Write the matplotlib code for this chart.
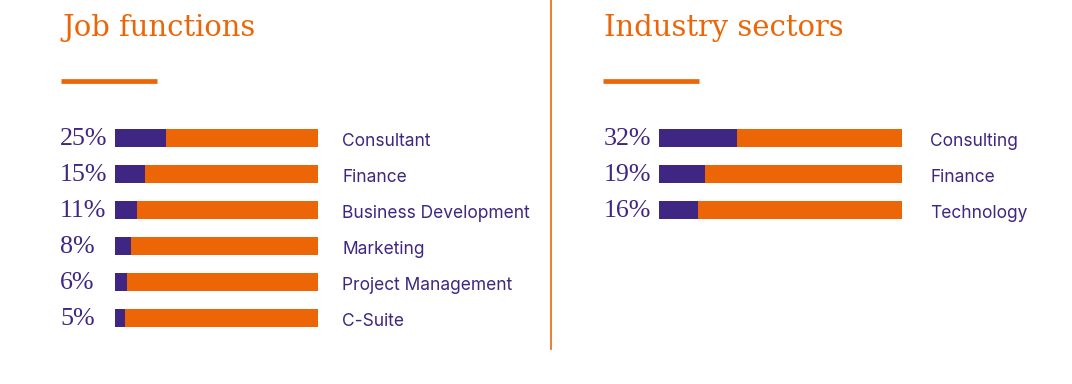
import matplotlib
matplotlib.use("Agg")
import matplotlib.pyplot as plt
from matplotlib.transforms import blended_transform_factory

# ---- data ----
job_categories = ["Consultant", "Finance", "Business Development", "Marketing",
                  "Project Management", "C-Suite"]
job_values = [25, 15, 11, 8, 6, 5]
industry_categories = ["Consulting", "Finance", "Technology"]
industry_values = [32, 19, 16]
titles = ["Job functions", "Industry sectors"]

ORANGE = "#EC6608"
PURPLE = "#3E2682"
W, H = 1072, 384

fig = plt.figure(figsize=(W / 100, H / 100), dpi=100)
fig.patch.set_facecolor("white")

def fx(px):
    return px / W

def fy(py):
    return 1 - py / H

SERIF = ["DejaVu Serif"]
NUMSERIF = ["Liberation Serif", "DejaVu Serif"]
SANS = ["Inter", "DejaVu Sans"]

panels = [
    dict(title=titles[0], cats=job_categories, vals=job_values,
         title_x=62, pct_x=60, bar_l=115, bar_r=318, cat_x=342),
    dict(title=titles[1], cats=industry_categories, vals=industry_values,
         title_x=604, pct_x=604, bar_l=659, bar_r=902, cat_x=930),
]

for p in panels:
    top, bottom = 120, 336
    ax = fig.add_axes([fx(p["bar_l"]), fy(bottom), fx(p["bar_r"] - p["bar_l"]),
                       (bottom - top) / H])
    n = len(p["vals"])
    ys = list(range(n))
    ax.barh(ys, [100] * n, height=0.5, color=ORANGE, linewidth=0)
    ax.barh(ys, p["vals"], height=0.5, color=PURPLE, linewidth=0)
    ax.set_xlim(0, 100)
    ax.set_ylim(5.5, -0.5)
    ax.axis("off")
    tr = blended_transform_factory(fig.transFigure, ax.transData)
    for y, v, c in zip(ys, p["vals"], p["cats"]):
        ax.text(fx(p["pct_x"]), y + 0.02, f"{v}%", transform=tr, ha="left",
                va="center", fontsize=18.7, color=PURPLE, family=NUMSERIF)
        ax.text(fx(p["cat_x"]), y + 0.1, c, transform=tr, ha="left",
                va="center", fontsize=12.5, color=PURPLE, family=SANS)
    fig.text(fx(p["title_x"]), fy(36), p["title"], ha="left", va="baseline",
             fontsize=20.9, color=ORANGE, family=SERIF)
    fig.add_artist(plt.Line2D([fx(p["title_x"] - 1), fx(p["title_x"] + 95)],
                              [fy(81), fy(81)], color=ORANGE, linewidth=3.4,
                              solid_capstyle="butt"))

fig.add_artist(plt.Line2D([fx(551), fx(551)], [fy(0), fy(349)], color=ORANGE,
                          linewidth=1.2))

fig.savefig("out.png", dpi=100, facecolor="white")
